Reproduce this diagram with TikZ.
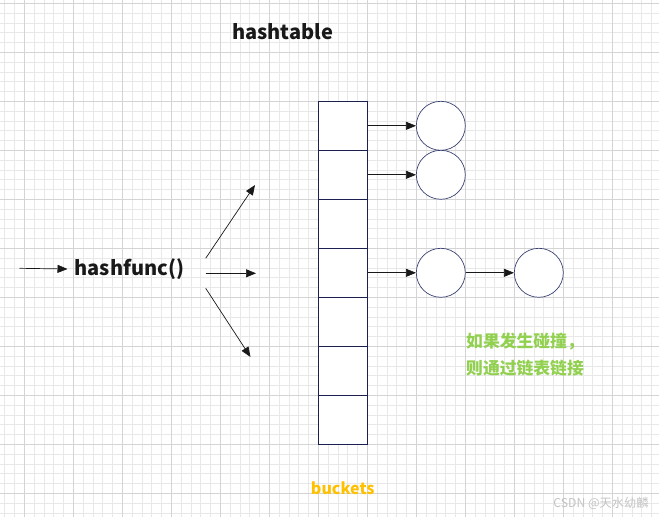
\documentclass[tikz,border=0pt]{standalone}
\usepackage{fontspec}
\setmainfont{Liberation Sans}
\newfontfamily\cjk{Noto Sans CJK SC}
\usetikzlibrary{arrows.meta}
\definecolor{minorgrid}{HTML}{E8E8E8}
\definecolor{majorgrid}{HTML}{D4D4D4}
\definecolor{navy}{HTML}{1C2050}
\definecolor{ringcol}{HTML}{3A4272}
\definecolor{greentxt}{HTML}{92D050}
\definecolor{orangetxt}{HTML}{FFC000}
\definecolor{marktxt}{HTML}{C4C4C4}
\tikzset{
  cell/.style={draw=navy, line width=0.8pt, fill=white, minimum width=49pt, minimum height=49pt, inner sep=0pt},
  ring/.style={draw=ringcol, line width=0.7pt, fill=white, circle, minimum size=49pt, inner sep=0pt},
  arr/.style={draw=black!90, line width=0.7pt, -{Triangle[length=10pt,width=8pt]}},
  title/.style={font=\cjk\bfseries\fontsize{20}{24}\selectfont, text=black!90},
}
\begin{document}
\begin{tikzpicture}[x=1pt,y=-1pt]
\useasboundingbox (0,0) rectangle (659,517);
\fill[white] (0,0) rectangle (659,517);
\begin{scope}
\clip (0,0) rectangle (659,517);
\foreach \k in {-2,...,65} \draw[minorgrid, line width=0.6pt] ({24.3+9.8*\k},0) -- ({24.3+9.8*\k},517);
\foreach \k in {0,...,52} \draw[minorgrid, line width=0.6pt] (0,{3.3+9.8*\k}) -- (659,{3.3+9.8*\k});
\foreach \k in {0,...,13} \draw[majorgrid, line width=0.8pt] ({24.3+49*\k},0) -- ({24.3+49*\k},517);
\foreach \k in {0,...,10} \draw[majorgrid, line width=0.8pt] (0,{3.3+49*\k}) -- (659,{3.3+49*\k});
\end{scope}

\node[title] (ht) at (282.5,32) {hashtable};
\node[title, inner xsep=7pt] (hf) at (129.5,269) {hashfunc()};
\coordinate (in) at (19.5,268.3);
\draw[arr] (in) -- (hf.west);

\foreach \i/\y in {1/125.8,2/174.8,3/223.8,4/272.8,5/321.8,6/370.8,7/419.8}
  \node[cell] (c\i) at (342.8,\y) {};

\node[ring] (n1) at (440.8,125.8) {};
\node[ring] (n2) at (440.8,174.8) {};
\node[ring] (n3) at (440.8,272.8) {};
\node[ring] (n4) at (538.8,272.8) {};

\draw[arr] (c1.east) -- (n1.west);
\draw[arr] (c2.east) -- (n2.west);
\draw[arr] (c4.east) -- (n3.west);
\draw[arr] (n3.east) -- (n4.west);

\coordinate (s1) at (205.7,258.3);
\coordinate (e1) at (255,185);
\coordinate (s2) at (205.7,273.3);
\coordinate (e2) at (256,273.3);
\coordinate (s3) at (205.7,288.3);
\coordinate (e3) at (250.5,357);
\draw[arr] (s1) -- (e1);
\draw[arr] (s2) -- (e2);
\draw[arr] (s3) -- (e3);

\node[font=\cjk\bfseries\fontsize{16.8}{27}\selectfont, text=greentxt, align=left, anchor=north west, inner sep=0pt] (note) at (466,333) {如果发生碰撞，\\则通过链表链接};
\node[font=\cjk\bfseries\fontsize{16}{20}\selectfont, text=orangetxt] (bk) at (342.8,488) {buckets};
\node[font=\cjk\fontsize{12.2}{14}\selectfont, text=marktxt, anchor=east] (wm) at (652,503) {CSDN @天水幼麟};
\end{tikzpicture}
\end{document}
